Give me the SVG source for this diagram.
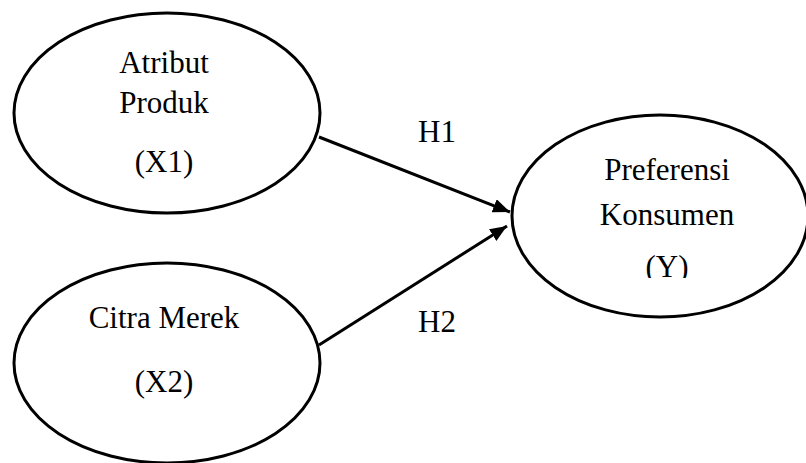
<svg xmlns="http://www.w3.org/2000/svg" width="806" height="463" viewBox="0 0 806 463">
  <style>
    .node { fill: #ffffff; stroke: #000000; stroke-width: 3; }
    .lbl { font-family: "Liberation Serif", "Times New Roman", serif; font-size: 31px; fill: #000000; text-anchor: middle; }
    .edge { stroke: #000000; stroke-width: 3; fill: none; }
  </style>
  <defs>
    <marker id="arrow" markerUnits="userSpaceOnUse" markerWidth="18" markerHeight="14" refX="17" refY="7" orient="auto">
      <path d="M0,0 L17,7 L0,14 z" fill="#000000"/>
    </marker>
    <clipPath id="clipY">
      <rect x="600" y="240" width="120" height="38"/>
    </clipPath>
  </defs>
  <rect width="806" height="463" fill="#ffffff"/>
  <g id="node-x1">
    <ellipse class="node" cx="167" cy="113" rx="153" ry="100"/>
    <text class="lbl" x="164" y="73">Atribut</text>
    <text class="lbl" x="164" y="113">Produk</text>
    <text class="lbl" x="164" y="172">(X1)</text>
  </g>
  <g id="node-x2">
    <ellipse class="node" cx="167" cy="363" rx="153" ry="100"/>
    <text class="lbl" x="164" y="328">Citra Merek</text>
    <text class="lbl" x="164" y="392">(X2)</text>
  </g>
  <g id="node-y">
    <ellipse class="node" cx="660" cy="216" rx="148" ry="101"/>
    <text class="lbl" x="667" y="180">Preferensi</text>
    <text class="lbl" x="667" y="225">Konsumen</text>
    <text class="lbl" x="667" y="277" clip-path="url(#clipY)">(Y)</text>
  </g>
  <g id="connectors">
    <line class="edge" x1="319" y1="137" x2="510" y2="212" marker-end="url(#arrow)"/>
    <line class="edge" x1="319" y1="345" x2="507" y2="226" marker-end="url(#arrow)"/>
    <text class="lbl" x="437" y="142">H1</text>
    <text class="lbl" x="437" y="332">H2</text>
  </g>
</svg>
